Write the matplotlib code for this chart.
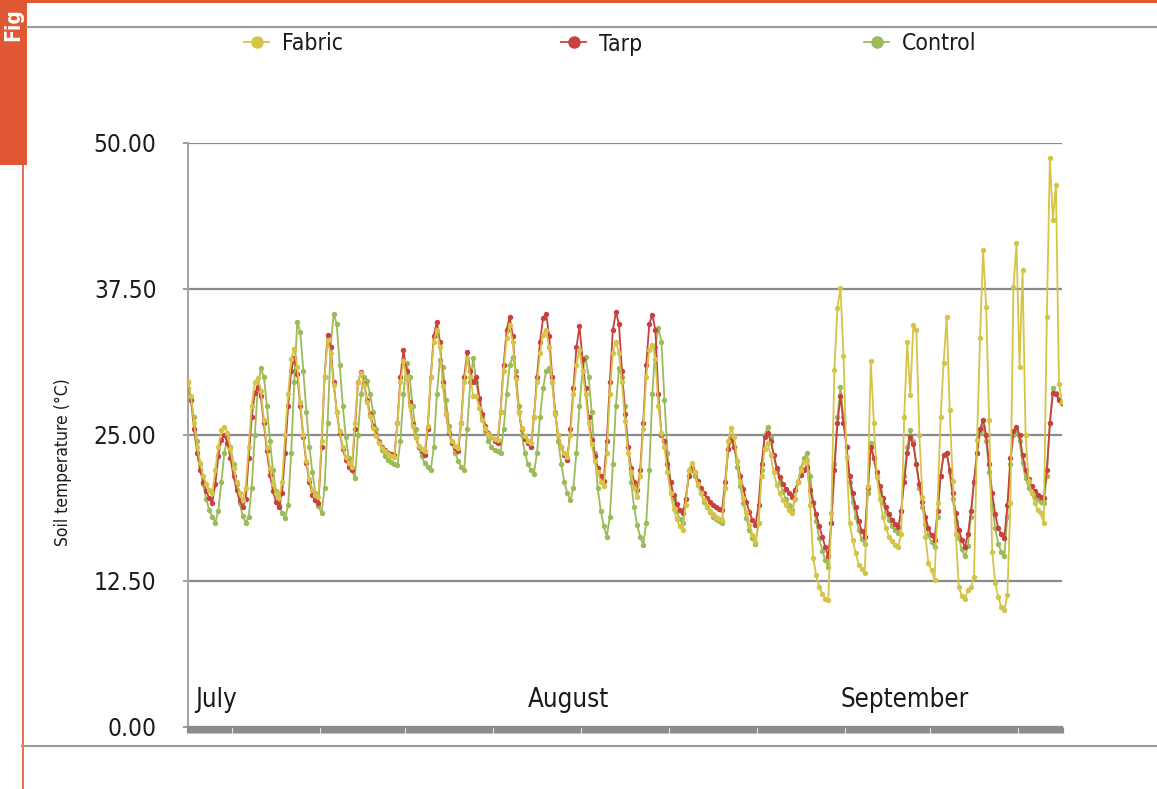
import matplotlib
matplotlib.use("Agg")
import matplotlib.pyplot as plt
from matplotlib.lines import Line2D
from matplotlib.patches import Rectangle

# ---------------- data (soil temperature, °C, one reading every ~2 h) ----------------
fabric = [
    29.5, 28.3, 26.0, 24.0, 22.6, 21.5, 20.8, 20.3, 20.0, 22.0, 24.0, 25.4,
    25.7, 25.2, 23.8, 22.2, 21.0, 20.0, 19.4, 20.5, 24.0, 27.5, 29.5, 29.9,
    28.8, 26.3, 24.0, 22.2, 20.8, 20.0, 19.6, 21.0, 25.0, 28.5, 31.5, 32.4,
    30.8, 27.8, 25.0, 22.8, 21.2, 20.3, 19.9, 19.7, 24.5, 30.0, 33.1, 32.0,
    29.3, 27.0, 25.3, 24.0, 23.1, 22.6, 22.3, 26.0, 29.5, 30.3, 29.3, 27.8,
    26.6, 25.6, 24.9, 24.3, 23.9, 23.6, 23.4, 23.2, 23.1, 26.0, 29.5, 31.3,
    30.0, 27.5, 25.8, 24.8, 24.1, 23.8, 23.6, 25.8, 30.0, 33.0, 34.0, 32.5,
    29.2, 26.8, 25.3, 24.5, 24.1, 23.9, 26.0, 29.5, 31.6, 30.0, 28.3, 28.3,
    27.3, 26.3, 25.6, 25.1, 24.8, 24.7, 24.6, 27.0, 30.5, 33.3, 34.4, 33.0,
    29.8, 27.0, 25.6, 24.9, 24.5, 24.3, 26.5, 29.5, 32.0, 33.6, 34.0, 32.5,
    29.5, 26.8, 25.0, 24.0, 23.5, 23.1, 25.0, 28.5, 31.0, 32.3, 30.5, 28.5,
    26.0, 24.2, 22.8, 21.8, 21.0, 20.6, 23.5, 28.5, 32.0, 33.0, 32.0, 29.5,
    26.2, 23.5, 21.8, 20.5, 19.7, 21.5, 25.5, 30.0, 32.3, 32.7, 31.5, 27.5,
    25.2, 24.0, 21.8, 20.0, 18.7, 17.8, 17.2, 16.9, 19.0, 22.0, 22.6, 21.8,
    20.8, 20.0, 19.4, 18.9, 18.5, 18.2, 18.0, 17.8, 17.7, 20.5, 24.5, 25.6,
    24.8, 22.8, 21.0, 19.6, 18.4, 17.3, 16.4, 15.8, 17.5, 21.5, 23.8, 24.3,
    23.3, 21.8, 20.7, 20.0, 19.4, 19.0, 18.6, 18.3, 19.5, 21.0, 22.0, 22.7,
    22.9, 19.0, 14.5, 13.0, 12.0, 11.4, 11.0, 10.9, 18.3, 30.6, 35.9, 37.6,
    31.8, 23.1, 17.5, 16.0, 14.9, 13.9, 13.5, 13.2, 20.6, 31.3, 26.0, 21.4,
    19.5, 18.0, 17.0, 16.3, 15.9, 15.6, 15.4, 16.5, 26.5, 33.0, 28.4, 34.4,
    34.0, 25.0, 19.7, 16.3, 14.0, 13.4, 12.6, 19.2, 26.5, 31.2, 35.1, 27.1,
    21.1, 16.5, 12.0, 11.2, 11.0, 11.7, 12.0, 12.8, 24.6, 33.3, 40.8, 36.0,
    26.3, 15.0, 12.3, 11.1, 10.3, 10.0, 11.3, 19.2, 37.7, 41.4, 30.8, 39.1,
    25.0, 21.1, 20.0, 19.2, 18.6, 18.3, 17.5, 35.1, 48.7, 43.4, 46.4, 29.4,
    27.8,
]

tarp = [
    29.5, 28.0, 25.5, 23.5, 22.0, 21.0, 20.2, 19.6, 19.2, 20.8, 23.2, 24.6,
    25.0, 24.3, 23.0, 21.5, 20.3, 19.4, 18.8, 19.5, 23.0, 26.5, 28.6, 29.1,
    28.3, 26.0, 23.6, 21.6, 20.2, 19.3, 18.8, 20.0, 23.5, 27.5, 30.5, 31.6,
    30.2, 27.5, 24.8, 22.6, 21.0, 19.9, 19.4, 19.2, 24.0, 30.0, 33.6, 32.5,
    29.5, 27.0, 25.2, 23.8, 22.9, 22.3, 22.0, 25.5, 29.5, 30.4, 29.4, 28.0,
    26.8, 25.8, 25.0, 24.4, 24.0, 23.7, 23.5, 23.4, 23.3, 26.0, 30.0, 32.3,
    30.5, 27.8, 25.9, 24.8, 24.0, 23.6, 23.3, 25.5, 30.0, 33.5, 34.7, 33.0,
    29.5, 26.8, 25.2, 24.3, 23.9, 23.6, 26.0, 30.0, 32.1, 30.5, 29.5, 30.0,
    28.2, 26.8, 25.8, 25.2, 24.8, 24.5, 24.3, 27.0, 31.0, 34.0, 35.1, 33.5,
    30.0, 27.0, 25.5, 24.7, 24.3, 24.0, 26.5, 30.0, 33.0, 35.0, 35.4, 33.5,
    30.0, 26.8, 25.0, 24.0, 23.3, 22.9, 25.5, 29.0, 32.5, 34.3, 31.5, 29.0,
    26.5, 24.6, 23.2, 22.2, 21.5, 21.1, 24.5, 29.5, 34.0, 35.5, 34.5, 30.5,
    26.8, 24.0, 22.2, 21.0, 20.3, 22.0, 26.0, 31.0, 34.5, 35.3, 34.0, 28.5,
    25.0, 24.5, 22.5, 21.0, 19.9, 19.1, 18.6, 18.3, 19.5, 21.5, 22.2, 21.8,
    21.1, 20.5, 20.0, 19.6, 19.3, 19.0, 18.8, 18.7, 18.6, 21.0, 23.8, 24.6,
    24.0, 22.8, 21.5, 20.4, 19.3, 18.4, 17.7, 17.3, 19.0, 22.5, 24.8, 25.2,
    24.5, 23.3, 22.2, 21.4, 20.8, 20.4, 20.0, 19.7, 20.3, 21.0, 21.6, 22.0,
    22.3, 20.3, 19.2, 18.2, 17.2, 16.3, 15.4, 14.6, 17.5, 22.0, 26.0, 28.3,
    26.0, 24.0, 21.5, 20.0, 18.8, 17.6, 16.8, 16.3, 20.5, 24.0, 23.0, 21.8,
    20.6, 19.6, 18.8, 18.2, 17.7, 17.4, 17.1, 18.5, 21.0, 23.5, 24.8, 24.2,
    22.5, 20.8, 19.3, 18.0, 17.0, 16.4, 16.0, 18.5, 21.5, 23.3, 23.5, 22.0,
    20.0, 18.3, 16.9, 16.0, 15.4, 16.5, 18.5, 21.0, 23.5, 25.5, 26.3, 25.0,
    22.5, 20.0, 18.2, 17.0, 16.5, 16.2, 19.0, 23.0, 25.3, 25.7, 25.0, 23.3,
    22.0, 21.2, 20.6, 20.2, 19.9, 19.7, 19.6, 22.0, 26.0, 28.6, 28.5, 28.0,
    27.7,
]

control = [
    29.0, 28.0, 26.5, 24.5, 22.5, 20.8, 19.5, 18.6, 18.0, 17.5, 18.5, 21.0,
    23.5, 24.8, 24.0, 22.5, 20.8, 19.2, 18.1, 17.5, 18.0, 20.5, 25.0, 29.0,
    30.7, 30.0, 27.5, 24.5, 22.0, 20.2, 19.0, 18.3, 17.9, 19.0, 23.5, 29.5,
    34.7, 33.8, 30.5, 27.0, 24.0, 21.8, 20.0, 18.9, 18.3, 20.5, 26.0, 32.5,
    35.4, 34.5, 31.0, 27.5, 24.8, 23.0, 22.0, 21.3, 25.0, 28.5, 30.0, 29.6,
    28.5, 27.0, 25.5, 24.5, 23.7, 23.2, 22.9, 22.7, 22.5, 22.4, 24.5, 28.5,
    31.2, 30.0, 27.5, 25.5, 24.0, 23.2, 22.6, 22.3, 22.0, 24.0, 28.5, 31.4,
    30.8, 28.0, 25.8, 24.4, 23.5, 22.8, 22.3, 22.0, 25.5, 29.5, 31.6, 29.5,
    28.0, 26.5, 25.3, 24.5, 24.0, 23.7, 23.6, 23.5, 25.5, 28.5, 31.0, 31.7,
    30.5, 27.5, 25.0, 23.5, 22.5, 22.0, 21.7, 23.5, 26.5, 29.0, 30.5, 30.7,
    29.5, 27.0, 24.5, 22.5, 21.0, 20.0, 19.4, 20.5, 23.5, 27.5, 30.5, 31.7,
    30.0, 27.0, 23.5, 20.5, 18.5, 17.2, 16.3, 18.0, 22.5, 27.5, 30.7, 30.0,
    27.5, 24.0, 21.0, 18.8, 17.3, 16.3, 15.6, 17.5, 22.0, 28.5, 32.5, 34.2,
    33.0, 28.0, 23.5, 21.0, 19.5, 18.5, 17.8, 17.5, 19.5, 21.5, 22.0, 21.5,
    20.7, 20.0, 19.3, 18.8, 18.4, 18.0, 17.8, 17.6, 17.5, 20.5, 23.8, 24.8,
    24.0, 22.3, 20.6, 19.2, 17.9, 16.9, 16.2, 15.7, 17.5, 22.0, 25.0, 25.7,
    24.8, 23.3, 22.0, 21.0, 20.2, 19.5, 19.0, 18.6, 19.5, 21.0, 22.2, 23.0,
    23.5, 21.5, 19.3, 17.6, 16.2, 15.1, 14.3, 13.7, 17.5, 22.5, 26.5, 29.1,
    26.5, 24.0, 21.0, 19.3, 18.0, 16.9, 16.1, 15.7, 20.0, 24.3, 23.0, 21.5,
    20.2, 19.2, 18.4, 17.7, 17.2, 16.9, 16.6, 18.5, 21.5, 24.0, 25.4, 24.5,
    22.5, 20.5, 18.8, 17.4, 16.4, 15.8, 15.4, 18.0, 21.5, 23.3, 23.5, 21.8,
    19.5, 17.6, 16.2, 15.2, 14.6, 15.5, 18.0, 21.0, 23.5, 25.2, 25.7, 24.5,
    21.8, 19.0, 17.0, 15.7, 15.0, 14.6, 18.0, 22.5, 25.0, 25.4, 24.5, 22.6,
    21.3, 20.5, 20.0, 19.7, 19.5, 19.3, 19.2, 21.5, 26.0, 29.0, 28.6, 28.1,
    27.7,
]

series_names = ["Fabric", "Tarp", "Control"]
month_labels = ["July", "August", "September"]
month_start_index = [2.5, 112, 215]
y_ticks = [0.0, 12.5, 25.0, 37.5, 50.0]

# ---------------- style ----------------
plt.rcParams["font.family"] = ["DejaVu Sans"]
plt.rcParams["font.stretch"] = "condensed"
colors = {"Fabric": "#D6C447", "Tarp": "#C8413E", "Control": "#9BBB59"}
TXT = "#1a1a1a"
W, H = 1157, 789

fig = plt.figure(figsize=(W / 100, H / 100), dpi=100)
ax = fig.add_axes([188 / W, 1 - 727 / H, 874 / W, 584 / H])

data = {"Fabric": fabric, "Tarp": tarp, "Control": control}
for name in ["Control", "Tarp", "Fabric"]:
    vals = data[name]
    c = colors[name]
    ax.plot(range(len(vals)), vals, color=c, lw=1.3, marker="o",
            ms=3.9, mfc=c, mec=c, mew=0, zorder=3, label=name)

ax.set_xlim(0, len(fabric) - 1)
ax.set_ylim(0, 50)
ax.set_yticks(y_ticks)
ax.set_yticklabels([f"{v:.2f}" for v in y_ticks])
ax.set_xticks(range(len(fabric)))
ax.set_xticklabels([])

ax.yaxis.grid(True, color="#8A8A8A", lw=1.6)
ax.set_axisbelow(True)
for s in ["top", "right"]:
    ax.spines[s].set_visible(False)
ax.spines["left"].set_color("#A6A6A6")
ax.spines["left"].set_linewidth(1.5)
ax.spines["bottom"].set_color("#8C8C8C")
ax.spines["bottom"].set_linewidth(1.5)

ax.tick_params(axis="y", length=3.6, width=1.2, color="#8C8C8C", pad=19,
               labelsize=17.5, labelcolor=TXT)
ax.tick_params(axis="x", length=4.3, width=2.3, color="#8C8C8C", bottom=True)

ax.set_ylabel("Soil temperature (°C)", fontsize=12.5, color=TXT)
ax.yaxis.set_label_coords(-0.1327, 0.454)

for lab, idx in zip(month_labels, month_start_index):
    ax.text(idx, 2.3, lab, ha="left", va="center", fontsize=18.5, color=TXT)

# legend: one entry per anchor so each sits where the reference has it
legend_x_px = [244, 561, 864]
for n, xp in zip(series_names, legend_x_px):
    h = Line2D([0], [0], color=colors[n], lw=1.3, marker="o", ms=8,
               mfc=colors[n], mec=colors[n])
    fig.legend([h], [n], loc="center left", bbox_to_anchor=(xp / W, 1 - 44 / H),
               frameon=False, fontsize=16.5, handlelength=1.1,
               handletextpad=0.55, borderpad=0, borderaxespad=0,
               labelcolor=TXT)

# page decorations
orange = "#DF5833"
fig.add_artist(Rectangle((0, 1 - 3 / H), 1, 3 / H, transform=fig.transFigure,
                         color=orange, lw=0))
fig.add_artist(Rectangle((0, 1 - 165 / H), 27 / W, 165 / H,
                         transform=fig.transFigure, color=orange, lw=0))
fig.add_artist(Line2D([27 / W, 1], [1 - 27 / H, 1 - 27 / H],
                      transform=fig.transFigure, color="#9A9A9A", lw=1.5))
fig.add_artist(Line2D([22.5 / W, 22.5 / W], [0, 1 - 165 / H],
                      transform=fig.transFigure, color=orange, lw=1.2))
fig.add_artist(Line2D([22 / W, 1], [1 - 746 / H, 1 - 746 / H],
                      transform=fig.transFigure, color="#9A9A9A", lw=1.5))
fig.text(13.5 / W, 1 - 8 / H, "Fig", rotation=90, ha="center", va="top",
         color="white", fontsize=15, fontweight="bold")

fig.savefig("out.png", dpi=100)
